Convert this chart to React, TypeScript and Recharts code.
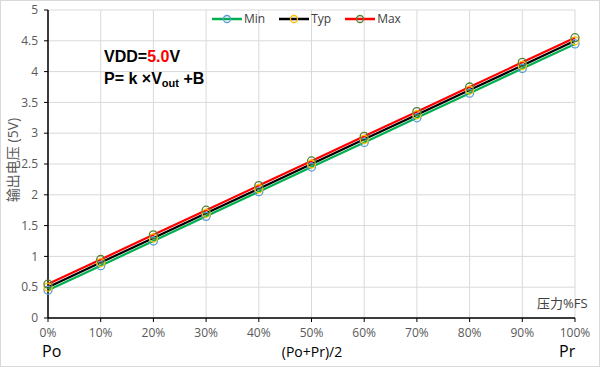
import React from 'react';
import { LineChart, Line, XAxis, YAxis, CartesianGrid } from 'recharts';

// pressure %FS on the x axis
const pressure = [0, 10, 20, 30, 40, 50, 60, 70, 80, 90, 100];
const minV = [0.45, 0.85, 1.25, 1.65, 2.05, 2.45, 2.85, 3.25, 3.65, 4.05, 4.45];
const typV = [0.5, 0.9, 1.3, 1.7, 2.1, 2.5, 2.9, 3.3, 3.7, 4.1, 4.5];
const maxV = [0.55, 0.95, 1.35, 1.75, 2.15, 2.55, 2.95, 3.35, 3.75, 4.15, 4.55];
const yTicks = [0, 0.5, 1, 1.5, 2, 2.5, 3, 3.5, 4, 4.5, 5];

const data = pressure.map((p, i) => ({ p, min: minV[i], typ: typV[i], max: maxV[i] }));

const series = [
  { key: 'min', name: 'Min', line: '#00b050', dot: '#5b9bd5' },
  { key: 'typ', name: 'Typ', line: '#000000', dot: '#ffc000' },
  { key: 'max', name: 'Max', line: '#ff0000', dot: '#548235' },
];

const font = '"Open Sans", "Noto Sans CJK SC", sans-serif';

function LegendBox() {
  return (
    <div style={{ display: 'flex', gap: 14, fontFamily: font, fontSize: 12, color: '#404040' }}>
      {series.map((s) => (
        <div key={s.key} style={{ display: 'flex', alignItems: 'center' }}>
          <svg width={30} height={10}>
            <line x1={0} y1={5} x2={30} y2={5} stroke={s.line} strokeWidth={2.5} />
            <circle cx={15} cy={5} r={3.5} fill="none" stroke={s.dot} strokeWidth={1.3} />
          </svg>
          <span style={{ marginLeft: 2 }}>{s.name}</span>
        </div>
      ))}
    </div>
  );
}

export default function App() {
  return (
    <div
      style={{
        position: 'absolute',
        left: 0,
        top: 0,
        width: 600,
        height: 367,
        background: '#fff',
        fontFamily: font,
      }}
    >
      <div
        style={{
          position: 'absolute',
          left: 0,
          top: 0,
          width: 598,
          height: 365,
          border: '1px solid #d9d9d9',
        }}
      />
      <LineChart width={600} height={367} data={data} margin={{ top: 10, right: 25, bottom: 19, left: 0 }}>
        <CartesianGrid stroke="#d9d9d9" strokeWidth={1} />
        <XAxis
          dataKey="p"
          type="number"
          domain={[0, 100]}
          ticks={pressure}
          tickFormatter={(v: number) => `${v}%`}
          height={30}
          axisLine={{ stroke: '#000', strokeWidth: 1.5 }}
          tickLine={{ stroke: '#000' }}
          tickSize={4}
          tick={{ fill: '#595959', fontSize: 12, fontFamily: font }}
          tickMargin={6}
        />
        <YAxis
          type="number"
          domain={[0, 5]}
          ticks={yTicks}
          width={48}
          axisLine={{ stroke: '#000', strokeWidth: 1.5 }}
          tickLine={{ stroke: '#000' }}
          tickSize={4}
          tick={{ fill: '#595959', fontSize: 12, fontFamily: font }}
          tickMargin={6}
        />
        {series.map((s) => (
          <Line
            key={s.key}
            dataKey={s.key}
            name={s.name}
            stroke={s.line}
            strokeWidth={2.2}
            dot={{ r: 4, fill: 'none', stroke: s.dot, strokeWidth: 1.3 }}
            activeDot={false}
            isAnimationActive={false}
          />
        ))}
      </LineChart>
      <div style={{ position: 'absolute', left: 212, top: 10 }}>
        <LegendBox />
      </div>
      <div
        style={{
          position: 'absolute',
          left: 104,
          top: 46,
          fontFamily: 'Arial, "Liberation Sans", sans-serif',
          fontWeight: 'bold',
          fontSize: 16,
          lineHeight: '22px',
          color: '#000',
        }}
      >
        <div>
          VDD=<span style={{ color: '#ff0000' }}>5.0</span>V
        </div>
        <div>
          P= k ×V<sub style={{ fontSize: 11, verticalAlign: -3 }}>out</sub> +B
        </div>
      </div>
      <div
        style={{
          position: 'absolute',
          left: 12,
          top: 160,
          transform: 'translate(-50%, -50%) rotate(-90deg)',
          whiteSpace: 'nowrap',
          fontSize: 14,
          color: '#595959',
        }}
      >
        输出电压 (5V)
      </div>
      <div style={{ position: 'absolute', left: 537, top: 293, fontSize: 13, color: '#404040' }}>压力%FS</div>
      <div style={{ position: 'absolute', left: 42, top: 341, fontSize: 16, lineHeight: '20px', color: '#000' }}>Po</div>
      <div style={{ position: 'absolute', left: 559, top: 341, fontSize: 16, lineHeight: '20px', color: '#000' }}>Pr</div>
      <div
        style={{
          position: 'absolute',
          left: 312,
          top: 351,
          transform: 'translate(-50%, -50%)',
          fontSize: 14,
          color: '#000',
        }}
      >
        (Po+Pr)/2
      </div>
    </div>
  );
}
